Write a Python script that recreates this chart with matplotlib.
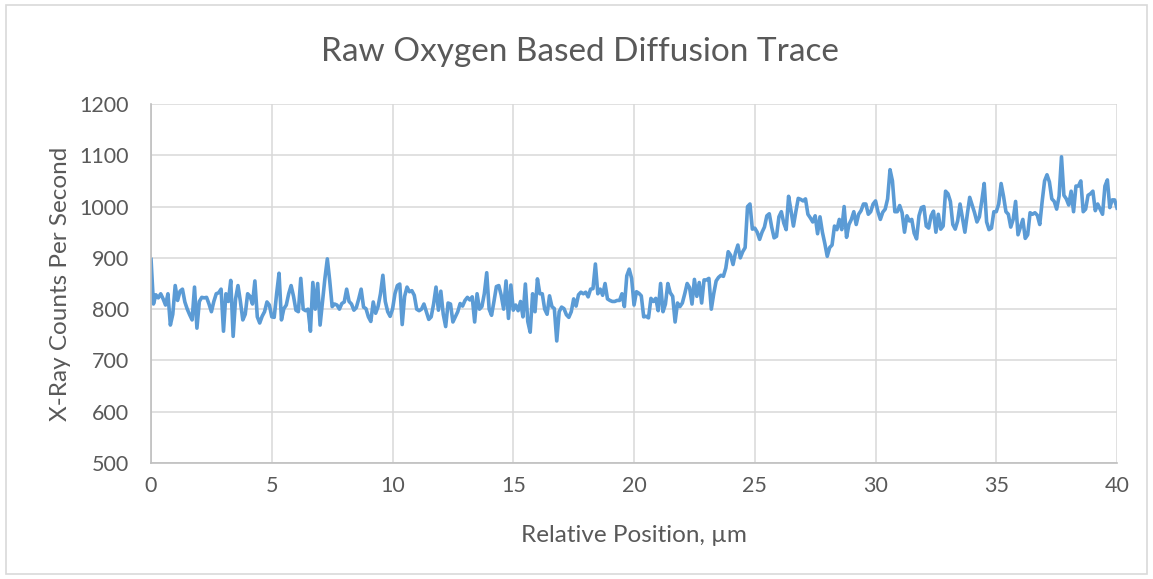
import numpy as np
import matplotlib.pyplot as plt
from matplotlib.patches import Rectangle

# Oxygen X-ray counts, sampled every 0.1 um, split into 4 um stretches
counts_00_04 = [897, 810, 828, 822, 830, 820, 808, 830, 769, 790,
                846, 817, 835, 839, 814, 800, 789, 779, 843, 763,
                815, 823, 822, 823, 810, 795, 815, 830, 832, 839,
                757, 830, 815, 856, 747, 820, 846, 815, 779, 790]
counts_04_08 = [830, 825, 810, 855, 785, 773, 786, 795, 814, 808,
                785, 784, 830, 870, 779, 801, 808, 830, 846, 825,
                798, 795, 860, 800, 797, 800, 757, 852, 800, 850,
                769, 815, 860, 898, 855, 805, 810, 808, 800, 811]
counts_08_12 = [814, 839, 815, 810, 798, 803, 820, 839, 804, 801,
                785, 776, 814, 792, 805, 830, 866, 815, 795, 786,
                800, 830, 846, 849, 770, 825, 843, 834, 836, 827,
                800, 797, 800, 810, 795, 780, 785, 810, 843, 798]
counts_12_16 = [835, 790, 766, 812, 810, 775, 785, 795, 811, 806,
                817, 823, 818, 824, 775, 830, 800, 805, 830, 871,
                800, 788, 815, 844, 846, 827, 800, 855, 782, 847,
                798, 808, 797, 815, 785, 849, 776, 755, 830, 795]
counts_16_20 = [859, 830, 830, 800, 790, 826, 805, 801, 738, 795,
                804, 801, 789, 784, 795, 820, 806, 828, 833, 830,
                833, 824, 839, 840, 888, 830, 839, 827, 850, 820,
                817, 815, 815, 817, 817, 830, 805, 865, 878, 860]
counts_20_24 = [808, 834, 831, 826, 785, 786, 783, 821, 815, 821,
                797, 850, 795, 810, 850, 832, 825, 775, 812, 805,
                812, 830, 850, 842, 810, 858, 825, 852, 812, 857,
                857, 860, 800, 830, 855, 862, 866, 864, 880, 912]
counts_24_28 = [905, 887, 910, 925, 900, 912, 920, 1000, 1005, 956,
                958, 950, 936, 950, 960, 982, 986, 960, 939, 942,
                980, 990, 968, 955, 1020, 992, 962, 990, 1016, 1014,
                1011, 1015, 985, 978, 970, 982, 947, 980, 950, 928]
counts_28_32 = [903, 920, 925, 962, 955, 975, 955, 1000, 940, 965,
                975, 990, 965, 985, 992, 1005, 1005, 985, 990, 1005,
                1011, 990, 975, 989, 995, 1015, 1072, 1050, 990, 990,
                1002, 988, 950, 982, 972, 975, 948, 937, 982, 998]
counts_32_36 = [1000, 962, 958, 982, 991, 950, 985, 956, 962, 1030,
                1025, 1010, 965, 956, 972, 1005, 978, 950, 985, 1018,
                1003, 988, 970, 980, 1011, 1045, 970, 955, 958, 990,
                990, 1005, 1045, 1020, 990, 985, 960, 975, 1010, 945]
counts_36_40 = [960, 975, 938, 945, 988, 985, 988, 983, 965, 1010,
                1050, 1062, 1048, 1015, 1010, 995, 1020, 1097, 1022, 1015,
                1003, 1030, 990, 1040, 1040, 1050, 990, 995, 1022, 1025,
                1030, 992, 1005, 995, 985, 1040, 1052, 998, 1013, 1013,
                997]

counts = np.array(counts_00_04 + counts_04_08 + counts_08_12 + counts_12_16
                  + counts_16_20 + counts_20_24 + counts_24_28 + counts_28_32
                  + counts_32_36 + counts_36_40)
position = np.linspace(0, 40, len(counts))

x_ticks = [0, 5, 10, 15, 20, 25, 30, 35, 40]
y_ticks = [500, 600, 700, 800, 900, 1000, 1100, 1200]

plt.rcParams['font.family'] = ['Lato', 'DejaVu Sans']
text_color = '#595959'

fig = plt.figure(figsize=(11.53, 5.79), dpi=100)
ax = fig.add_axes([0.131, 0.2003, 0.8378, 0.6201])

ax.plot(position, counts, color='#5B9BD5', linewidth=2.6, solid_joinstyle='round')

ax.set_xlim(0, 40)
ax.set_ylim(500, 1200)
ax.set_xticks(x_ticks)
ax.set_yticks(y_ticks)
ax.grid(True, color='#D9D9D9', linewidth=1.1)
ax.set_axisbelow(True)
ax.tick_params(length=0, labelsize=15.5, labelcolor=text_color)
ax.tick_params(axis='x', pad=9)
ax.tick_params(axis='y', pad=16)
for side in ['top', 'right']:
    ax.spines[side].set_visible(False)
for side in ['left', 'bottom']:
    ax.spines[side].set_color('#BFBFBF')
    ax.spines[side].set_linewidth(1.2)

fig.text(0.503, 0.91, 'Raw Oxygen Based Diffusion Trace', fontsize=24,
         color=text_color, ha='center', va='center')
ax.set_xlabel('Relative Position, µm', fontsize=17.5, color=text_color, labelpad=21)
ax.set_ylabel('X-Ray Counts Per Second', fontsize=17.5, color=text_color, labelpad=6)

# light frame around the whole chart
fig.patches.append(Rectangle((0.005, 0.008), 0.99, 0.984, transform=fig.transFigure,
                             fill=False, edgecolor='#D9D9D9', linewidth=1.2))

fig.savefig('out.png', dpi=100)
